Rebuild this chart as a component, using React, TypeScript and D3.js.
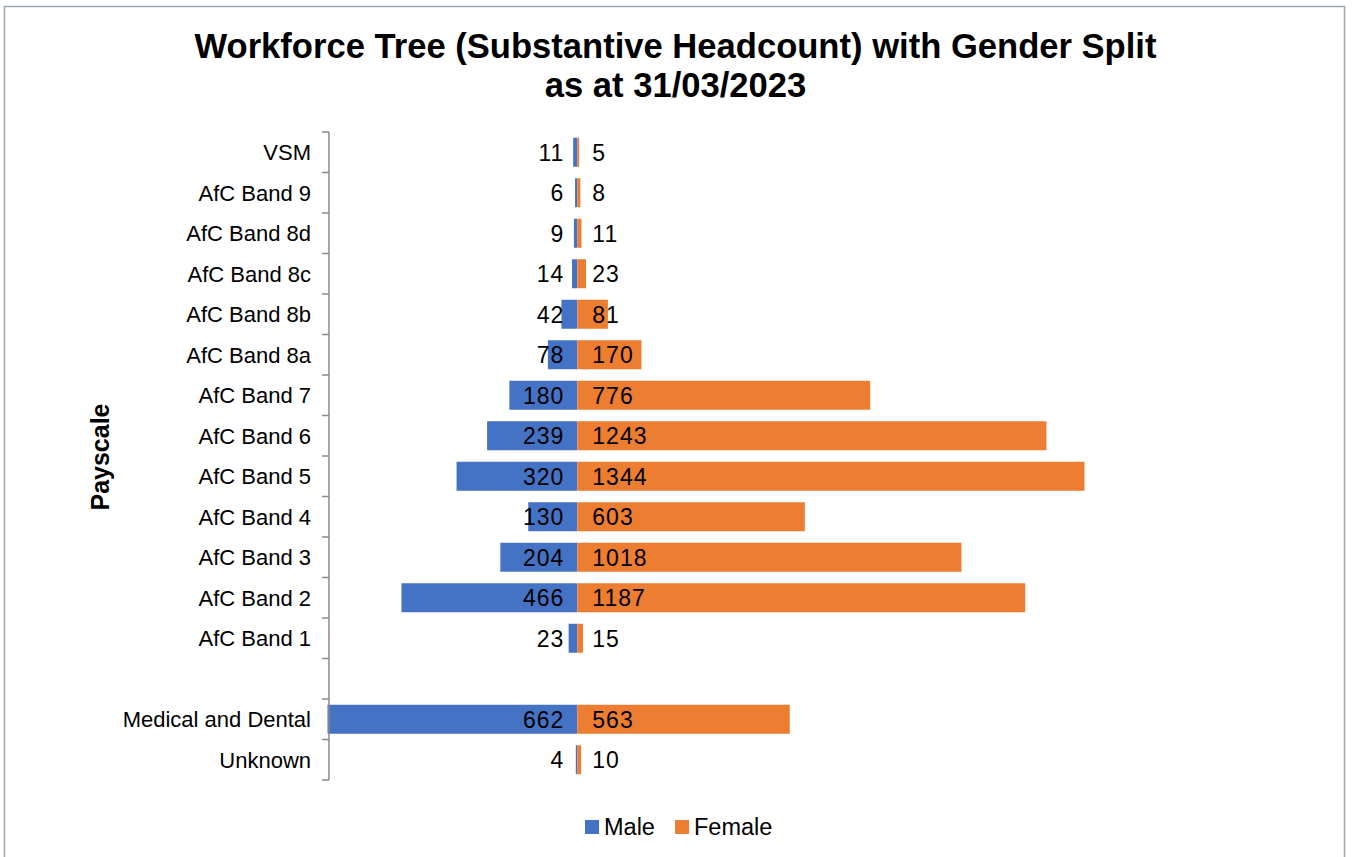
import React from "react";
import * as d3 from "d3";

const categories = [
  "VSM",
  "AfC Band 9",
  "AfC Band 8d",
  "AfC Band 8c",
  "AfC Band 8b",
  "AfC Band 8a",
  "AfC Band 7",
  "AfC Band 6",
  "AfC Band 5",
  "AfC Band 4",
  "AfC Band 3",
  "AfC Band 2",
  "AfC Band 1",
  "",
  "Medical and Dental",
  "Unknown",
];
const maleValues: (number | null)[] = [11, 6, 9, 14, 42, 78, 180, 239, 320, 130, 204, 466, 23, null, 662, 4];
const femaleValues: (number | null)[] = [5, 8, 11, 23, 81, 170, 776, 1243, 1344, 603, 1018, 1187, 15, null, 563, 10];
const seriesNames = ["Male", "Female"];
const seriesColors = ["#4472C4", "#ED7D31"];
const titleLines = ["Workforce Tree (Substantive Headcount) with Gender Split", "as at 31/03/2023"];
const axisTitle = "Payscale";

const W = 1352;
const H = 857;
const FONT = "'Liberation Sans', Arial, sans-serif";

export default function App() {
  const ids = categories.map((_, i) => String(i));
  const y = d3
    .scaleBand<string>()
    .domain(ids)
    .range([132, 780])
    .paddingInner(0.284)
    .paddingOuter(0.142);
  const x = d3.scaleLinear().domain([-662, 1344]).range([327.5, 1084.5]);
  const x0 = x(0);
  const axisX = 329;
  const step = y.step();
  const tickYs = d3.range(categories.length + 1).map((i) => 132 + i * step);

  return (
    <svg
      width={W}
      height={H}
      style={{ position: "absolute", left: 0, top: 0, background: "#fff" }}
      fontFamily={FONT}
    >
      <rect x={0} y={0} width={W} height={H} fill="#fff" />
      <rect x={4.5} y={6.5} width={1340} height={870} fill="none" stroke="#9aa6b2" strokeWidth={1.5} />

      {titleLines.map((t, i) => (
        <text
          key={i}
          x={675.5}
          y={58 + i * 39}
          textAnchor="middle"
          fontSize={34.6}
          fontWeight="bold"
          fill="#000"
        >
          {t}
        </text>
      ))}

      <text
        transform={`translate(109,457) rotate(-90)`}
        textAnchor="middle"
        fontSize={25}
        fontWeight="bold"
        fill="#000"
      >
        {axisTitle}
      </text>

      {/* bars */}
      {categories.map((c, i) => {
        const yy = y(String(i))!;
        const m = maleValues[i];
        const f = femaleValues[i];
        return (
          <g key={"b" + i}>
            {m != null && (
              <rect x={x(-m)} y={yy} width={x0 - x(-m)} height={y.bandwidth()} fill={seriesColors[0]} />
            )}
            {f != null && (
              <rect x={x0} y={yy} width={x(f) - x0} height={y.bandwidth()} fill={seriesColors[1]} />
            )}
          </g>
        );
      })}

      {/* category axis */}
      <line x1={axisX} x2={axisX} y1={132} y2={780} stroke="#8a8a8a" strokeWidth={1.5} />
      {tickYs.map((ty, i) => (
        <line key={"t" + i} x1={322} x2={axisX} y1={ty} y2={ty} stroke="#8a8a8a" strokeWidth={1.5} />
      ))}
      {categories.map((c, i) => (
        <text
          key={"c" + i}
          x={311}
          y={y(String(i))! + y.bandwidth() / 2}
          dy="0.36em"
          textAnchor="end"
          fontSize={22}
          fill="#000"
        >
          {c}
        </text>
      ))}

      {/* data labels */}
      {categories.map((c, i) => {
        const cy = y(String(i))! + y.bandwidth() / 2;
        const m = maleValues[i];
        const f = femaleValues[i];
        return (
          <g key={"l" + i} fontSize={23} fill="#000" letterSpacing={1}>
            {m != null && (
              <text x={x0 - 13} y={cy} dy="0.36em" textAnchor="end">
                {m}
              </text>
            )}
            {f != null && (
              <text x={x0 + 15} y={cy} dy="0.36em" textAnchor="start">
                {f}
              </text>
            )}
          </g>
        );
      })}

      {/* legend */}
      <g>
        <rect x={585} y={820} width={14} height={14} fill={seriesColors[0]} />
        <text x={604} y={827} dy="0.36em" fontSize={23.5} fill="#000">
          {seriesNames[0]}
        </text>
        <rect x={675} y={820} width={14} height={14} fill={seriesColors[1]} />
        <text x={694} y={827} dy="0.36em" fontSize={23.5} fill="#000">
          {seriesNames[1]}
        </text>
      </g>
    </svg>
  );
}
